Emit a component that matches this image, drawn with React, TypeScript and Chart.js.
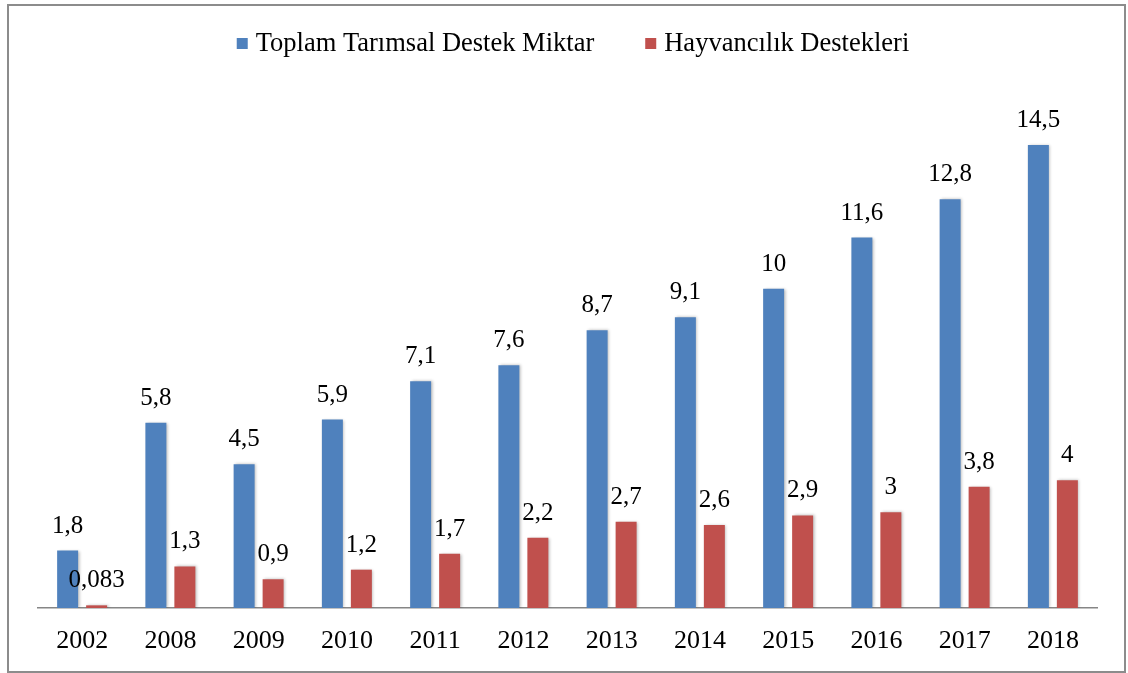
import React, { useEffect, useRef } from "react";
import { Chart, registerables } from "chart.js";

Chart.register(...registerables);

const categories = ["2002", "2008", "2009", "2010", "2011", "2012", "2013", "2014", "2015", "2016", "2017", "2018"];
const totalSupport = [1.8, 5.8, 4.5, 5.9, 7.1, 7.6, 8.7, 9.1, 10, 11.6, 12.8, 14.5];
const livestockSupport = [0.083, 1.3, 0.9, 1.2, 1.7, 2.2, 2.7, 2.6, 2.9, 3, 3.8, 4];
const seriesNames = ["Toplam Tarımsal Destek Miktar", "Hayvancılık Destekleri"];
const seriesColors = ["#4F81BD", "#C0504D"];

const FONT = "'Liberation Serif', 'Times New Roman', serif";

const fmt = (v: number) => String(v).replace(".", ",");

const shadowPlugin = {
  id: "barShadow",
  beforeDatasetsDraw(chart: any) {
    const ctx = chart.ctx;
    ctx.save();
    ctx.shadowColor = "rgba(0,0,0,0.28)";
    ctx.shadowBlur = 3;
    ctx.shadowOffsetX = 1.5;
    ctx.shadowOffsetY = 0;
  },
  afterDatasetsDraw(chart: any) {
    chart.ctx.restore();
  },
};

const labelPlugin = {
  id: "valueLabels",
  afterDatasetsDraw(chart: any) {
    const ctx = chart.ctx;
    ctx.save();
    ctx.font = `25px ${FONT}`;
    ctx.fillStyle = "#000";
    ctx.textAlign = "center";
    ctx.textBaseline = "alphabetic";
    chart.data.datasets.forEach((ds: any, i: number) => {
      const meta = chart.getDatasetMeta(i);
      meta.data.forEach((bar: any, j: number) => {
        ctx.fillText(fmt(ds.data[j]), bar.x, bar.y - 18);
      });
    });
    ctx.restore();
  },
};

const legendPlugin = {
  id: "topLegend",
  afterDraw(chart: any) {
    const ctx = chart.ctx;
    ctx.save();
    ctx.font = `26.5px ${FONT}`;
    ctx.textBaseline = "alphabetic";
    ctx.textAlign = "left";
    const box = 11;
    const gap = 8;
    const itemGap = 51;
    const ds = chart.data.datasets;
    const widths = ds.map((d: any) => box + gap + ctx.measureText(d.label).width);
    const total = widths.reduce((a: number, b: number) => a + b, 0) + itemGap * (ds.length - 1);
    let x = 573 - total / 2;
    const baseline = 51;
    ds.forEach((d: any, i: number) => {
      ctx.fillStyle = d.backgroundColor;
      ctx.fillRect(x, 38, box, box);
      ctx.fillStyle = "#000";
      ctx.fillText(d.label, x + box + gap, baseline);
      x += widths[i] + itemGap;
    });
    ctx.restore();
  },
};

export default function App() {
  const ref = useRef<HTMLCanvasElement>(null);

  useEffect(() => {
    if (!ref.current) return;
    const chart = new Chart(ref.current, {
      type: "bar",
      data: {
        labels: categories,
        datasets: [
          { label: seriesNames[0], data: totalSupport, backgroundColor: seriesColors[0] },
          { label: seriesNames[1], data: livestockSupport, backgroundColor: seriesColors[1] },
        ],
      },
      options: {
        responsive: false,
        animation: false,
        layout: { padding: { left: 38, right: 31, top: 97, bottom: 0 } },
        datasets: {
          bar: { categoryPercentage: 0.657, barPercentage: 0.724 },
        } as any,
        plugins: {
          legend: { display: false },
          tooltip: { enabled: false },
        },
        scales: {
          x: {
            grid: { display: false, drawTicks: false },
            border: { display: true, color: "#868686", width: 1.5 },
            ticks: { color: "#000", font: { family: FONT, size: 26 }, padding: 18 },
            afterFit: (s: any) => {
              s.height = 65;
            },
          },
          y: {
            display: false,
            min: 0,
            max: 16,
          },
        },
      },
      plugins: [shadowPlugin, labelPlugin, legendPlugin],
    });
    return () => chart.destroy();
  }, []);

  return (
    <div style={{ position: "fixed", left: 0, top: 0, width: 1128, height: 673, background: "#fff" }}>
      <div
        style={{
          position: "absolute",
          left: 7,
          top: 4,
          width: 1119,
          height: 669,
          border: "2px solid #8c8c8c",
          boxSizing: "border-box",
        }}
      />
      <canvas ref={ref} width={1128} height={673} style={{ position: "absolute", left: 0, top: 0 }} />
    </div>
  );
}
